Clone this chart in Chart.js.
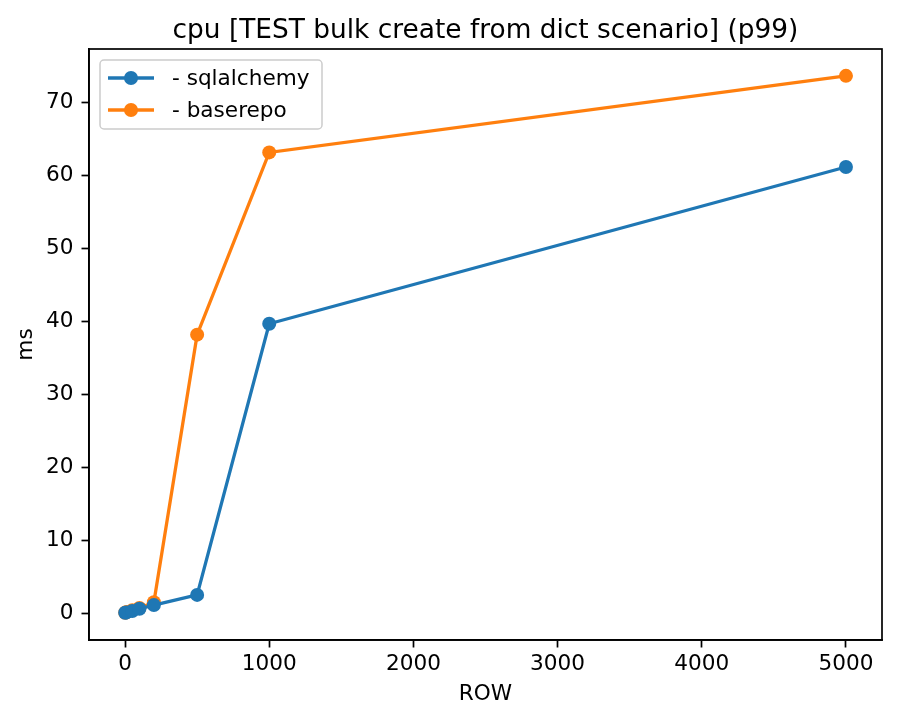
<!DOCTYPE html>
<html><head><meta charset="utf-8">
<script src="https://cdn.jsdelivr.net/npm/chart.js@4/dist/chart.umd.min.js"></script>
<style>html,body{margin:0;padding:0;background:#fff}#wrap{width:898px;height:721px;position:relative}</style>
</head><body><div id="wrap"><canvas id="c" width="898" height="721"></canvas></div>
<script>
const rows = [1, 10, 50, 100, 200, 500, 1000, 5000];
const sqlalchemy = [0.05, 0.1, 0.3, 0.6, 1.1, 2.5, 39.7, 61.2];
const baserepo = [0.05, 0.15, 0.4, 0.7, 1.5, 38.2, 63.2, 73.7];
const xTicks = [0, 1000, 2000, 3000, 4000, 5000];
const yTicks = [0, 10, 20, 30, 40, 50, 60, 70];
const seriesNames = ['- sqlalchemy', '- baserepo'];
const colors = ['#1f77b4', '#ff7f0e'];
const titleText = 'cpu [TEST bulk create from dict scenario] (p99)';
const xLabel = 'ROW';
const yLabel = 'ms';

const FONT = 'DejaVu Sans';
const TICK = 21.6;
const mk = (xs, ys) => xs.map((x, i) => ({x, y: ys[i]}));

const framePlugin = {
  id: 'frame',
  afterDraw(chart) {
    const {ctx, chartArea: a} = chart;
    ctx.save();
    ctx.strokeStyle = '#000'; ctx.lineWidth = 1.7;
    ctx.strokeRect(a.left, a.top, a.right - a.left, a.bottom - a.top);
    ctx.fillStyle = '#000';
    ctx.font = '26.4px "' + FONT + '"';
    ctx.textAlign = 'center'; ctx.textBaseline = 'alphabetic';
    ctx.fillText(titleText, (a.left + a.right) / 2, 38);
    ctx.font = TICK + 'px "' + FONT + '"';
    ctx.textBaseline = 'middle';
    ctx.fillText(xLabel, (a.left + a.right) / 2, 694);
    ctx.save();
    ctx.translate(26, (a.top + a.bottom) / 2);
    ctx.rotate(-Math.PI / 2);
    ctx.fillText(yLabel, 0, 0);
    ctx.restore();
    const lx = 100, ly = 60, lw = 222, lh = 69;
    ctx.beginPath();
    const r = 4;
    ctx.moveTo(lx + r, ly); ctx.arcTo(lx + lw, ly, lx + lw, ly + lh, r);
    ctx.arcTo(lx + lw, ly + lh, lx, ly + lh, r); ctx.arcTo(lx, ly + lh, lx, ly, r);
    ctx.arcTo(lx, ly, lx + lw, ly, r); ctx.closePath();
    ctx.fillStyle = 'rgba(255,255,255,0.8)'; ctx.fill();
    ctx.strokeStyle = '#cccccc'; ctx.lineWidth = 1.5; ctx.stroke();
    ctx.textAlign = 'left'; ctx.textBaseline = 'middle';
    seriesNames.forEach((n, i) => {
      const y = 78 + i * 32;
      ctx.strokeStyle = colors[i]; ctx.lineWidth = 3.3;
      ctx.beginPath(); ctx.moveTo(108, y); ctx.lineTo(154, y); ctx.stroke();
      ctx.fillStyle = colors[i];
      ctx.beginPath(); ctx.arc(131, y, 7, 0, Math.PI * 2); ctx.fill();
      ctx.fillStyle = '#000';
      ctx.fillText(n, 172, y + 1);
    });
    ctx.restore();
  }
};

const tickGrid = {display: true, drawOnChartArea: false, drawTicks: true, tickLength: 7.5, tickColor: '#000', tickWidth: 1.7};

new Chart(document.getElementById('c'), {
  type: 'scatter',
  data: {
    datasets: [
      {label: seriesNames[0], data: mk(rows, sqlalchemy), showLine: true, borderColor: colors[0], backgroundColor: colors[0], borderWidth: 3.3, pointRadius: 7, pointHoverRadius: 7, pointBorderWidth: 0},
      {label: seriesNames[1], data: mk(rows, baserepo), showLine: true, borderColor: colors[1], backgroundColor: colors[1], borderWidth: 3.3, pointRadius: 7, pointHoverRadius: 7, pointBorderWidth: 0}
    ]
  },
  options: {
    responsive: false, animation: false, devicePixelRatio: 1,
    layout: {padding: {top: 49, right: 16, left: 0, bottom: 0}},
    plugins: {legend: {display: false}, tooltip: {enabled: false}, title: {display: false}},
    scales: {
      x: {
        type: 'linear', min: -249.95, max: 5249.95,
        afterBuildTicks: s => { s.ticks = xTicks.map(v => ({value: v})); },
        afterFit: s => { s.height = 81; },
        grid: tickGrid,
        border: {display: true, color: '#000', width: 1.7},
        ticks: {color: '#000', font: {family: FONT, size: TICK}, padding: 4, maxRotation: 0, autoSkip: false, callback: v => String(v)},
        title: {display: false}
      },
      y: {
        type: 'linear', min: -3.685, max: 77.385,
        afterBuildTicks: s => { s.ticks = yTicks.map(v => ({value: v})); },
        afterFit: s => { s.width = 89; },
        grid: tickGrid,
        border: {display: true, color: '#000', width: 1.7},
        ticks: {color: '#000', font: {family: FONT, size: TICK}, padding: 8, autoSkip: false, callback: v => String(v)},
        title: {display: false}
      }
    }
  },
  plugins: [framePlugin]
});
</script></body></html>
